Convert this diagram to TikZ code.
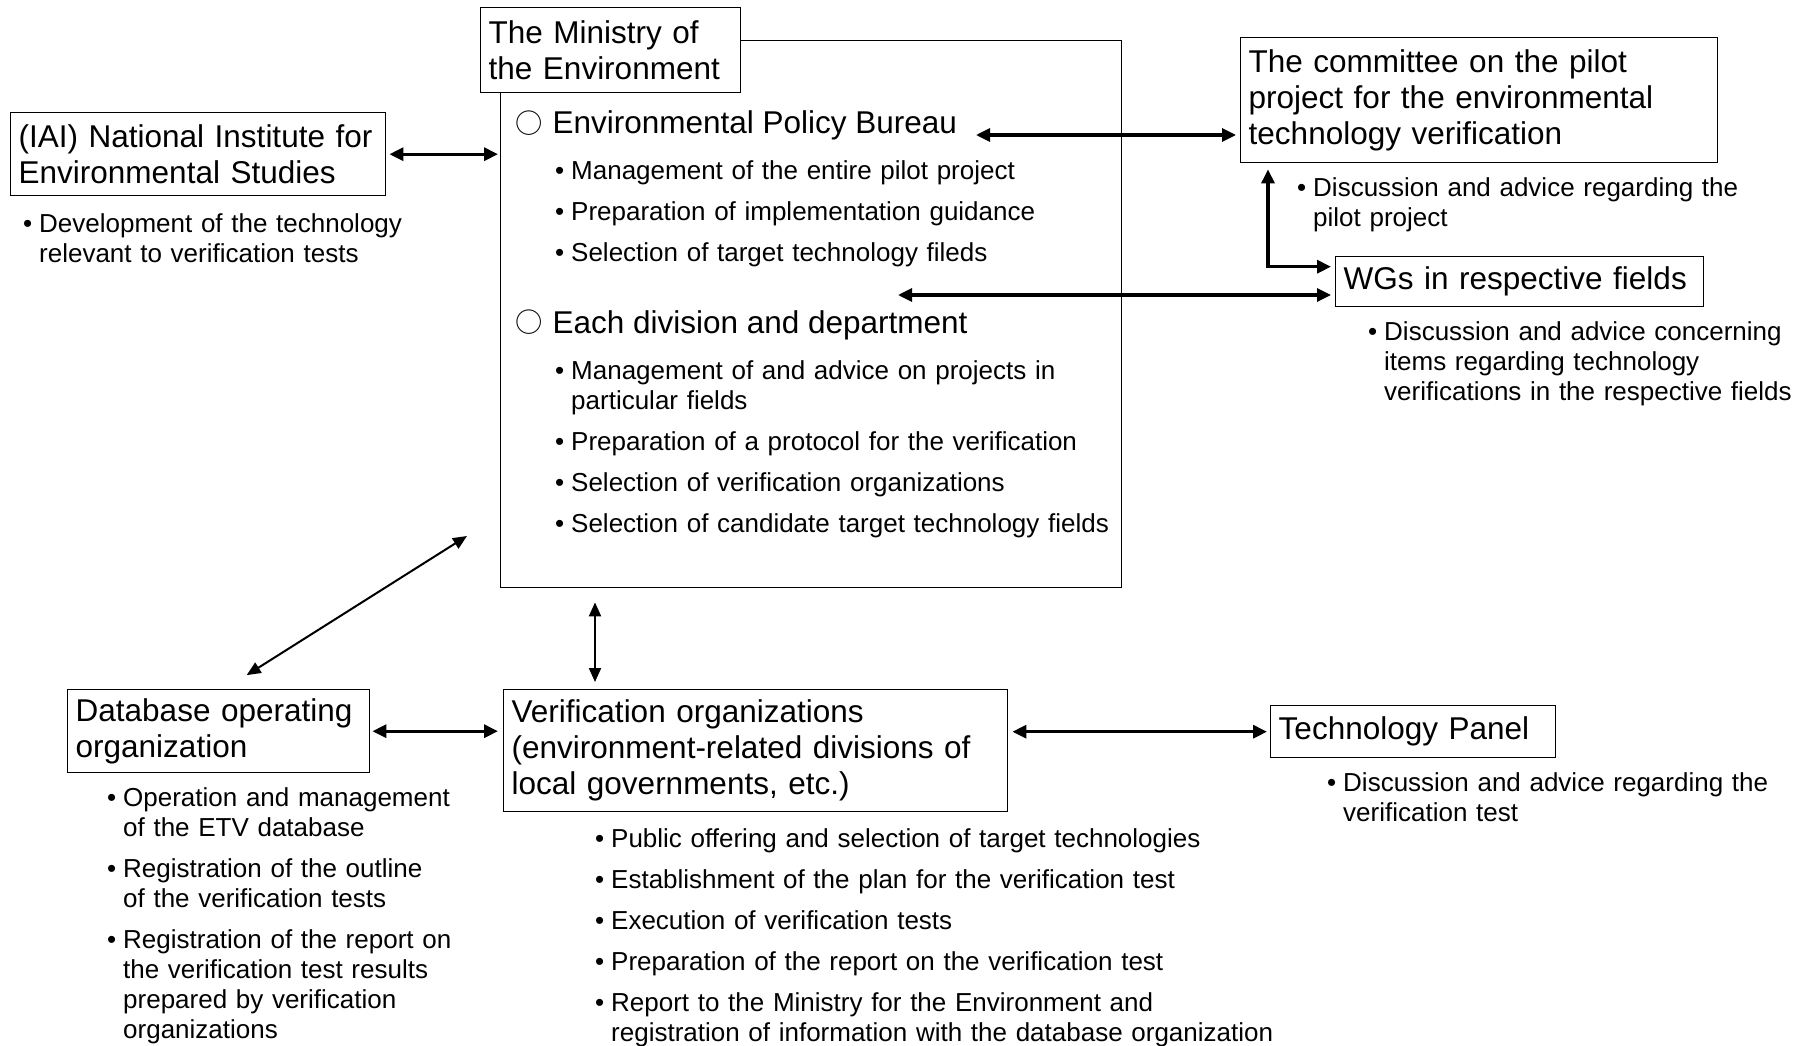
\documentclass[tikz,border=0pt]{standalone}
\usepackage{fontspec}
\setmainfont{Liberation Sans}
\newfontfamily\cjkfont{Noto Sans CJK JP}
\usetikzlibrary{arrows.meta,positioning}

\newcommand{\boxfont}{\fontsize{31.5}{36}\selectfont}
\newcommand{\listfont}{\fontsize{26}{30}\selectfont\setlength{\parskip}{11pt}}
\newcommand{\itm}[1]{\noindent\hangindent=16pt\hangafter=1\makebox[16pt][l]{\textbullet}\strut#1\par}
\newcommand{\ring}{\raisebox{1pt}{\cjkfont\fontsize{27.3}{36}\selectfont ○}\hspace{10pt}}

\tikzset{
  orgbox/.style={draw, line width=1.4pt, inner xsep=8pt, inner ysep=0pt, align=left, anchor=north west, font=\boxfont},
  duty/.style={inner sep=0pt, anchor=north west, text width=720pt, align=left, font=\listfont, execute at begin node=\listfont},
  head/.style={inner sep=0pt, anchor=base west, font=\boxfont},
  link/.style={{Triangle[length=14pt,width=13pt]}-{Triangle[length=14pt,width=13pt]}, line width=3.2pt},
  thinlink/.style={{Triangle[length=14pt,width=12pt]}-{Triangle[length=14pt,width=12pt]}, line width=2pt}
}

\begin{document}
\begin{tikzpicture}[x=1pt, y=-1pt]
\useasboundingbox (0,0) rectangle (1809,1046);
% ministry
\node[orgbox, minimum width=621pt, minimum height=547pt] (moe) at (500,40) {};
\node[orgbox, fill=white, text width=244pt, minimum height=85pt] (moetitle) at (480,7) {The Ministry of\\the Environment};
\node[head] (epb) at (515,134) {\ring Environmental Policy Bureau};
\node[duty] (epblist) at (555,158) {\itm{Management of the entire pilot project}\itm{Preparation of implementation guidance}\itm{Selection of target technology fileds}};
\node[head] (divhead) at (515,333) {\ring Each division and department};
\node[duty] (divlist) at (555,358) {\itm{Management of and advice on projects in\newline particular fields}\itm{Preparation of a protocol for the verification}\itm{Selection of verification organizations}\itm{Selection of candidate target technology fields}};
% left side
\node[orgbox, text width=359pt, minimum height=83pt] (iai) at (10,112) {(IAI) National Institute for\\Environmental Studies};
\node[duty] (iailist) at (23,211) {\itm{Development of the technology\newline relevant to verification tests}};
% right side
\node[orgbox, text width=461pt, minimum height=125pt] (cmte) at (1240,37) {The committee on the pilot\\project for the environmental\\technology verification};
\node[duty] (cmtelist) at (1297,175) {\itm{Discussion and advice regarding the\newline pilot project}};
\node[orgbox, text width=352pt, minimum height=50pt] (wgs) at (1335,256) {WGs in respective fields};
\node[duty] (wgslist) at (1368,319) {\itm{Discussion and advice concerning\newline items regarding technology\newline verifications in the respective fields}};
% bottom row
\node[orgbox, text width=286pt, minimum height=83pt] (dbo) at (67,689) {Database operating\\organization};
\node[duty] (dbolist) at (107,785) {\itm{Operation and management\newline of the ETV database}\itm{Registration of the outline\newline of the verification tests}\itm{Registration of the report on\newline the verification test results\newline prepared by verification\newline organizations}};
\node[orgbox, text width=488pt, minimum height=122pt] (vorg) at (503,689) {Verification organizations\\(environment-related divisions of\\local governments, etc.)};
\node[duty] (vorglist) at (595,826) {\itm{Public offering and selection of target technologies}\itm{Establishment of the plan for the verification test}\itm{Execution of verification tests}\itm{Preparation of the report on the verification test}\itm{Report to the Ministry for the Environment and\newline registration of information with the database organization}};
\node[orgbox, text width=269pt, minimum height=52pt] (tpanel) at (1270,705) {Technology Panel};
\node[duty] (tplist) at (1327,770) {\itm{Discussion and advice regarding the\newline verification test}};
% arrows
\coordinate (epbR) at (976,135);
\coordinate (divR) at (898,295);
\coordinate (dbAim) at (467,536);
\draw[link, shorten <=3pt, shorten >=2pt] (iai.east) -- (iai.east -| moe.west);
\draw[link, shorten >=4pt] (epbR) -- (epbR -| cmte.west);
\draw[link, shorten >=4pt] (divR) -- (divR -| wgs.west);
\draw[link, shorten <=6pt, shorten >=4pt] (cmte.south -| 1268,0) |- ([yshift=15pt]wgs.west);
\draw[thinlink, shorten >=26pt] (dbAim) -- ([xshift=6pt]dbo.north);
\draw[thinlink, shorten <=14pt, shorten >=7pt] (moe.south -| 595,0) -- (vorg.north -| 595,0);
\draw[link, shorten <=2pt, shorten >=5pt] (dbo.east) -- (dbo.east -| vorg.west);
\draw[link, shorten <=4pt, shorten >=3pt] (tpanel.west -| vorg.east) -- (tpanel.west);
\end{tikzpicture}
\end{document}
